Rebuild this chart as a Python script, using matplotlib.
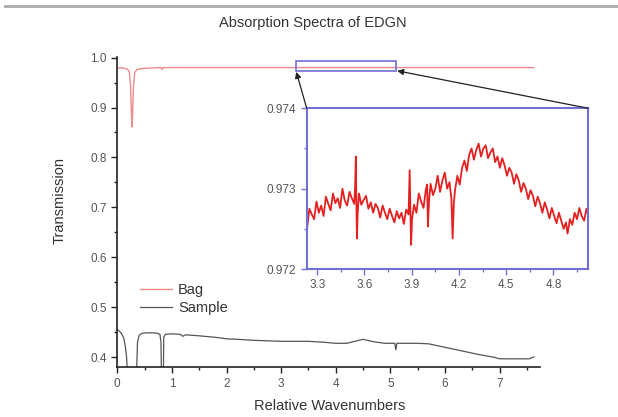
import matplotlib
matplotlib.use("Agg")
import matplotlib.pyplot as plt
from matplotlib.patches import Rectangle, ConnectionPatch
from matplotlib.lines import Line2D
from matplotlib.ticker import MultipleLocator

plt.rcParams['font.family'] = ['Liberation Sans', 'DejaVu Sans']

# main spectrum: bag reference
bag_x = [0.0, 0.12, 0.18, 0.22, 0.245, 0.26, 0.27, 0.28, 0.295, 0.32, 0.36, 0.45,
         0.60, 0.80, 0.82, 0.84, 1.0, 2.0, 3.0, 4.0, 5.0, 6.0, 7.0, 7.63]
bag_y = [0.979, 0.979, 0.977, 0.972, 0.94, 0.885, 0.861, 0.885, 0.94, 0.970, 0.976, 0.978,
         0.979, 0.980, 0.976, 0.980, 0.980, 0.980, 0.980, 0.980, 0.980, 0.980, 0.980, 0.980]

# main spectrum: sample
sample_x = [0.0, 0.04, 0.08, 0.12, 0.15, 0.17, 0.19, 0.21, 0.33, 0.35, 0.37, 0.40, 0.45,
            0.52, 0.65, 0.74, 0.78, 0.80, 0.815, 0.83, 0.84, 0.85, 0.88, 1.0, 1.15,
            1.2, 1.25, 1.5, 1.8, 2.0, 2.2, 2.5, 3.0, 3.5, 3.8, 4.0, 4.2, 4.35, 4.5,
            4.7, 4.9, 5.08, 5.10, 5.12, 5.5, 5.7, 6.0, 6.3, 6.6, 6.9, 7.0, 7.3,
            7.55, 7.63]
sample_y = [0.456, 0.452, 0.447, 0.438, 0.420, 0.400, 0.360, 0.300, 0.300, 0.360, 0.430,
            0.444, 0.448, 0.449, 0.449, 0.448, 0.446, 0.430, 0.300, 0.300, 0.300, 0.440,
            0.446, 0.447, 0.446, 0.442, 0.445, 0.443, 0.440, 0.437, 0.436, 0.434, 0.432,
            0.432, 0.430, 0.428, 0.428, 0.432, 0.436, 0.431, 0.428, 0.428, 0.415, 0.428,
            0.428, 0.427, 0.420, 0.413, 0.406, 0.400, 0.397, 0.397, 0.397, 0.401]

# zoomed bag region (inset)
inset_x = [3.235, 3.25, 3.265, 3.28, 3.295, 3.31, 3.325, 3.34, 3.355, 3.37, 3.385, 3.40,
           3.415, 3.43, 3.445, 3.46, 3.475, 3.49, 3.505, 3.52, 3.535, 3.54, 3.545, 3.548,
           3.552, 3.557, 3.565, 3.58, 3.595, 3.61, 3.625, 3.64, 3.655, 3.67, 3.685, 3.70,
           3.715, 3.73, 3.745, 3.76, 3.775, 3.79, 3.805, 3.82, 3.835, 3.85, 3.865, 3.88,
           3.887, 3.891, 3.896, 3.902, 3.915, 3.93, 3.945, 3.96, 3.975, 3.99, 3.998, 4.003,
           4.01, 4.02, 4.035, 4.05, 4.065, 4.08, 4.095, 4.11, 4.125, 4.14, 4.152, 4.16,
           4.167, 4.175, 4.19, 4.205, 4.22, 4.235, 4.25, 4.265, 4.28, 4.295, 4.31, 4.325,
           4.34, 4.355, 4.37, 4.385, 4.40, 4.415, 4.43, 4.445, 4.46, 4.475, 4.49, 4.505,
           4.52, 4.535, 4.55, 4.565, 4.58, 4.595, 4.61, 4.625, 4.64, 4.655, 4.67, 4.685,
           4.70, 4.715, 4.73, 4.745, 4.76, 4.775, 4.79, 4.805, 4.82, 4.835, 4.85, 4.865,
           4.88, 4.89, 4.905, 4.92, 4.935, 4.95, 4.965, 4.98, 4.995, 5.01, 5.02]
inset_y = [0.97250, 0.97275, 0.97268, 0.97262, 0.97284, 0.97270, 0.97279, 0.97266, 0.97290,
           0.97281, 0.97273, 0.97294, 0.97282, 0.97288, 0.97276, 0.97300, 0.97285, 0.97279,
           0.97296, 0.97288, 0.97281,
           0.97300, 0.97340, 0.97290, 0.97238, 0.97270,
           0.97294, 0.97280, 0.97286, 0.97291, 0.97275, 0.97283, 0.97270, 0.97281, 0.97276,
           0.97264, 0.97279, 0.97270, 0.97262, 0.97275, 0.97266, 0.97258, 0.97272, 0.97263,
           0.97270, 0.97256, 0.97274, 0.97268,
           0.97323, 0.97280, 0.97230, 0.97262,
           0.97280, 0.97270, 0.97294, 0.97284, 0.97276, 0.97299, 0.97305,
           0.97253,
           0.97285, 0.97306, 0.97292, 0.97300, 0.97316, 0.97296, 0.97310, 0.97320, 0.97300,
           0.97308, 0.97288,
           0.97238,
           0.97280, 0.97298,
           0.97316, 0.97305, 0.97326, 0.97335, 0.97322, 0.97342, 0.97350, 0.97336, 0.97348,
           0.97356, 0.97340, 0.97350,
           0.97354, 0.97338, 0.97345, 0.97350, 0.97333, 0.97340, 0.97326, 0.97338, 0.97329,
           0.97316, 0.97326, 0.97320, 0.97306, 0.97318, 0.97310, 0.97296, 0.97307, 0.97300,
           0.97287, 0.97298, 0.97291, 0.97278, 0.97290, 0.97282, 0.97270, 0.97283, 0.97274,
           0.97263, 0.97276, 0.97266, 0.97257, 0.97270, 0.97260, 0.97250, 0.97258, 0.97244,
           0.97262, 0.97255, 0.97270, 0.97262, 0.97276, 0.97266, 0.97260, 0.97275, 0.97268]

zoom_box = (3.27, 0.974, 5.10, 0.994)  # x0, y0, x1, y1 in main data units

TXT = '#333333'
BLUE = '#7070d8'

fig = plt.figure(figsize=(6.18, 4.17), dpi=100)
fig.patch.set_facecolor('white')

ax = fig.add_axes([0.1898, 0.1192, 0.684, 0.744])
ax.plot(bag_x, bag_y, color='#ee8a8a', lw=1.0, label='Bag')
ax.plot(sample_x, sample_y, color='#555555', lw=0.9, label='Sample')
ax.set_xlim(0, 7.74)
ax.set_ylim(0.38, 1.001)
ax.xaxis.set_major_locator(MultipleLocator(1))
ax.xaxis.set_minor_locator(MultipleLocator(0.5))
ax.yaxis.set_major_locator(MultipleLocator(0.1))
ax.yaxis.set_minor_locator(MultipleLocator(0.05))
ax.yaxis.set_major_formatter(plt.FuncFormatter(lambda v, p: f'{v:.1f}'))
for s in ['top', 'right']:
    ax.spines[s].set_visible(False)
for s in ['left', 'bottom']:
    ax.spines[s].set_color('#222222')
    ax.spines[s].set_linewidth(1.2)
ax.tick_params(which='major', direction='out', length=4, width=1, colors='#222222',
               labelcolor='#555555', labelsize=8.5)
ax.tick_params(which='minor', direction='out', length=2.5, width=1, colors='#222222')
ax.set_xlabel('Relative Wavenumbers', fontsize=10.5, color=TXT)
ax.set_ylabel('Transmission', fontsize=10.5, color=TXT)
ax.xaxis.set_label_coords(0.503, -0.102)
ax.yaxis.set_label_coords(-0.119, 0.539)

ax.add_patch(Rectangle((zoom_box[0], zoom_box[1]), zoom_box[2] - zoom_box[0],
                       zoom_box[3] - zoom_box[1], fill=False, edgecolor=BLUE, lw=1.2, zorder=3))

leg = ax.legend(loc='center left', bbox_to_anchor=(0.2265, 0.283), bbox_transform=fig.transFigure,
                frameon=False, fontsize=10.5, handlelength=2.2, handletextpad=0.4,
                labelspacing=0.25, borderpad=0, borderaxespad=0)
for t in leg.get_texts():
    t.set_color(TXT)

fig.text(0.506, 0.945, 'Absorption Spectra of EDGN', ha='center', va='center',
         fontsize=10.5, color=TXT)

# inset
axi = fig.add_axes([0.4963, 0.3549, 0.4557, 0.3854])
axi.plot(inset_x, inset_y, color='#e52020', lw=1.3)
axi.set_xlim(3.233, 5.022)
axi.set_ylim(0.972, 0.974)
axi.xaxis.set_major_locator(MultipleLocator(0.3))
axi.xaxis.set_minor_locator(MultipleLocator(0.15))
axi.yaxis.set_major_locator(MultipleLocator(0.001))
axi.yaxis.set_minor_locator(MultipleLocator(0.0005))
axi.xaxis.set_major_formatter(plt.FuncFormatter(lambda v, p: f'{v:.1f}'))
axi.yaxis.set_major_formatter(plt.FuncFormatter(lambda v, p: f'{v:.3f}'))
for s in axi.spines.values():
    s.set_color(BLUE)
    s.set_linewidth(1.5)
axi.tick_params(which='major', direction='out', length=4, width=1, colors=BLUE,
                labelcolor='#555555', labelsize=8.5)
axi.tick_params(which='minor', direction='out', length=2.5, width=1, colors=BLUE)

for corner, bx in [((0, 1), zoom_box[0]), ((1, 1), zoom_box[2])]:
    con = ConnectionPatch(xyA=corner, coordsA=axi.transAxes, xyB=(bx, zoom_box[1]),
                          coordsB=ax.transData, arrowstyle='-|>', mutation_scale=9,
                          color='#222222', lw=0.9, shrinkA=0, shrinkB=1)
    fig.add_artist(con)

fig.add_artist(Line2D([0.008, 1.0], [1 - 6 / 417] * 2, color='#aaaaaa', lw=2))

fig.savefig('out.png', dpi=100)
